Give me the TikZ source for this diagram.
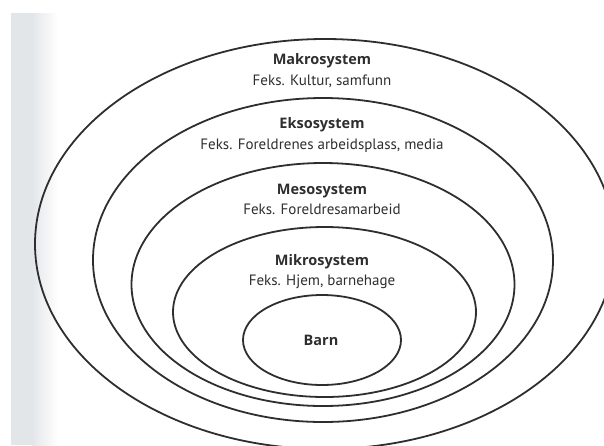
\documentclass[tikz,border=0pt]{standalone}
\usepackage{fontspec}
\setmainfont{PT Sans}
\newfontfamily\headfont{Open Sans}
\usetikzlibrary{shapes.geometric}
\definecolor{ink}{HTML}{2E2E2E}
\definecolor{scangray}{HTML}{E3E6E9}

\begin{document}
\begin{tikzpicture}[x=1pt, y=-1pt,
    ring/.style={ellipse, draw=ink, line width=1.8pt, inner sep=0pt},
    title/.style={anchor=base, text=ink, font=\headfont\fontsize{14.5}{16}\selectfont\bfseries},
    note/.style={anchor=base, text=ink, font=\fontsize{15}{17}\selectfont}]
    \useasboundingbox (0,0) rectangle (604,445);
    \clip (0,0) rectangle (604,445);
    \fill[scangray] (11,13) rectangle (32,445);
    \shade[left color=scangray, right color=white] (32,13) rectangle (58,445);

    \node (makro) at (325,244) [ring, minimum width=580pt, minimum height=410pt] {};
    \node (ekso) at (323,260) [ring, minimum width=460pt, minimum height=324pt] {};
    \node (meso) at (323,284.5) [ring, minimum width=383pt, minimum height=243pt] {};
    \node (mikro) at (324.5,312) [ring, minimum width=303pt, minimum height=170pt] {};
    \node (barn) at (322,340) [ring, minimum width=158pt, minimum height=90pt] {};

    \node (makrotitle) at (322,64) [title] {Makrosystem};
    \node (makronote) at (322,85) [note] {Feks. Kultur, samfunn};
    \node (eksotitle) at (322,128.5) [title] {Eksosystem};
    \node (eksonote) at (322,149) [note] {Feks. Foreldrenes arbeidsplass, media};
    \node (mesotitle) at (322,194) [title] {Mesosystem};
    \node (mesonote) at (322,214) [note] {Feks. Foreldresamarbeid};
    \node (mikrotitle) at (322,265) [title] {Mikrosystem};
    \node (mikronote) at (322,285) [note] {Feks. Hjem, barnehage};
    \node (barntitle) at (321,345) [title] {Barn};
\end{tikzpicture}
\end{document}
